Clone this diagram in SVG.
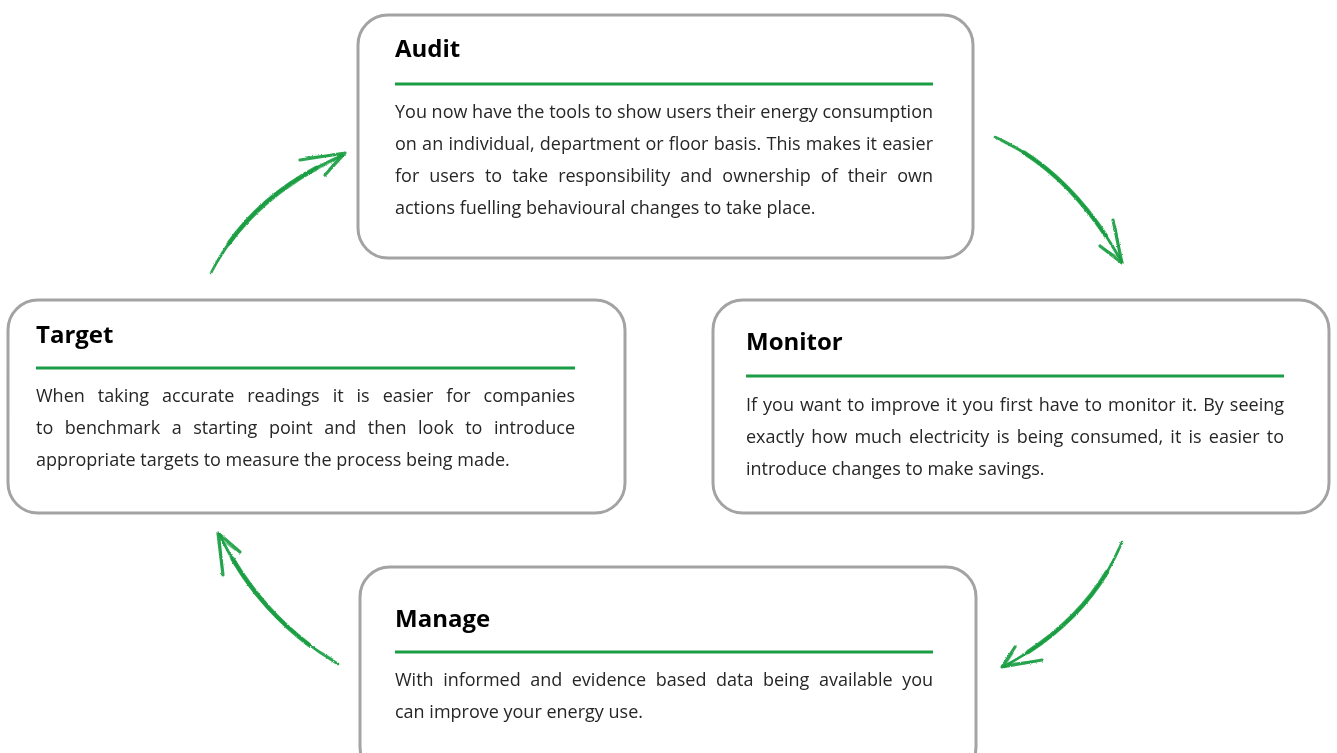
<svg xmlns="http://www.w3.org/2000/svg" width="1337" height="753" viewBox="0 0 1337 753">
<defs>
<filter id="crayon" x="-10%" y="-10%" width="120%" height="120%">
  <feTurbulence type="fractalNoise" baseFrequency="0.9" numOctaves="2" seed="3" result="n"/>
  <feDisplacementMap in="SourceGraphic" in2="n" scale="2.2" xChannelSelector="R" yChannelSelector="G"/>
</filter>
</defs>
<style>
.box{fill:#fff;stroke:#a3a3a3;stroke-width:3}
.rule{stroke:#1a9d45;stroke-width:3}
.title{font-family:"Open Sans","Liberation Sans",sans-serif;font-weight:700;font-size:24px;fill:#000}
.body{font-family:"Open Sans","Liberation Sans",sans-serif;font-size:18px;fill:#262626}
.arr{fill:none;stroke:#149c3f;stroke-linecap:round;stroke-linejoin:round}
.a1{stroke-width:2.6;opacity:.9}
.a2{stroke-width:1.4;opacity:.6}
.am{stroke-width:4.5;opacity:.85}
.ah{stroke-width:3.2;opacity:.9}
</style>
<rect width="1337" height="753" fill="#fff"/>
<g id="connectors" filter="url(#crayon)">
  <g id="arrow-target-audit">
    <path class="arr a1" d="M211,273 Q250,195 343,155"/>
    <path class="arr am" d="M228.8,243.3 Q261.1,197.6 316.3,167.9"/>
    <path class="arr a2" d="M215,266 Q255,198 339,158"/>
    <path class="arr ah" d="M300,160 L345,153 L325,175"/>
    <path class="arr a2" d="M306,157 L341,155 L329,169"/>
  </g>
  <g id="arrow-audit-monitor">
    <path class="arr a1" d="M995,137 Q1070,170 1122,262"/>
    <path class="arr am" d="M1024.1,152.6 Q1069.8,181.7 1105.9,235.7"/>
    <path class="arr a2" d="M1001,141 Q1073,175 1118,257"/>
    <path class="arr ah" d="M1113,220 L1122,263 L1100,246"/>
    <path class="arr a2" d="M1116,227 L1120,258 L1105,249"/>
  </g>
  <g id="arrow-monitor-manage">
    <path class="arr a1" d="M1122,542 Q1090,620 1003,667"/>
    <path class="arr am" d="M1107,572 Q1079,618.6 1027.9,652.2"/>
    <path class="arr a2" d="M1118,549 Q1088,623 1007,664"/>
    <path class="arr ah" d="M1015,647 L1002,667 L1042,660"/>
    <path class="arr a2" d="M1013,653 L1006,664 L1036,661"/>
  </g>
  <g id="arrow-manage-target">
    <path class="arr a1" d="M338,664 Q262,620 219,534"/>
    <path class="arr am" d="M308.9,644.7 Q263.8,610.7 232.6,558.9"/>
    <path class="arr a2" d="M333,659 Q258,618 222,541"/>
    <path class="arr ah" d="M223,575 L218,533 L240,552"/>
    <path class="arr a2" d="M222,567 L220,539 L235,550"/>
  </g>
</g>
<g id="audit">
  <rect class="box" x="358" y="15" width="615" height="243" rx="30"/>
  <text class="title" x="395" y="57">Audit</text>
  <line class="rule" x1="395" y1="84" x2="933" y2="84"/>
  <text class="body" x="395" y="118" textLength="538" lengthAdjust="spacing">You now have the tools to show users their energy consumption</text>
  <text class="body" x="395" y="150" word-spacing="0.5" textLength="538" lengthAdjust="spacing">on an individual, department or floor basis. This makes it easier</text>
  <text class="body" x="395" y="182" word-spacing="5.3" textLength="538" lengthAdjust="spacing">for users to take responsibility and ownership of their own</text>
  <text class="body" x="395" y="214">actions fuelling behavioural changes to take place.</text>
</g>
<g id="target">
  <rect class="box" x="8" y="300" width="617" height="213" rx="30"/>
  <text class="title" x="36" y="343">Target</text>
  <line class="rule" x1="36" y1="368" x2="575" y2="368"/>
  <text class="body" x="36" y="402" word-spacing="8.3" textLength="539" lengthAdjust="spacing">When taking accurate readings it is easier for companies</text>
  <text class="body" x="36" y="434" word-spacing="6.8" textLength="539" lengthAdjust="spacing">to benchmark a starting point and then look to introduce</text>
  <text class="body" x="36" y="466">appropriate targets to measure the process being made.</text>
</g>
<g id="monitor">
  <rect class="box" x="713" y="300" width="616" height="213" rx="30"/>
  <text class="title" x="746" y="350">Monitor</text>
  <line class="rule" x1="746" y1="376" x2="1284" y2="376"/>
  <text class="body" x="746" y="411" word-spacing="1.3" textLength="538" lengthAdjust="spacing">If you want to improve it you first have to monitor it. By seeing</text>
  <text class="body" x="746" y="443" word-spacing="2.5" textLength="538" lengthAdjust="spacing">exactly how much electricity is being consumed, it is easier to</text>
  <text class="body" x="746" y="475">introduce changes to make savings.</text>
</g>
<g id="manage">
  <rect class="box" x="360" y="567" width="616" height="210" rx="30"/>
  <text class="title" x="395" y="627">Manage</text>
  <line class="rule" x1="395" y1="652" x2="933" y2="652"/>
  <text class="body" x="395" y="686" word-spacing="4.9" textLength="538" lengthAdjust="spacing">With informed and evidence based data being available you</text>
  <text class="body" x="395" y="718">can improve your energy use.</text>
</g>
</svg>
